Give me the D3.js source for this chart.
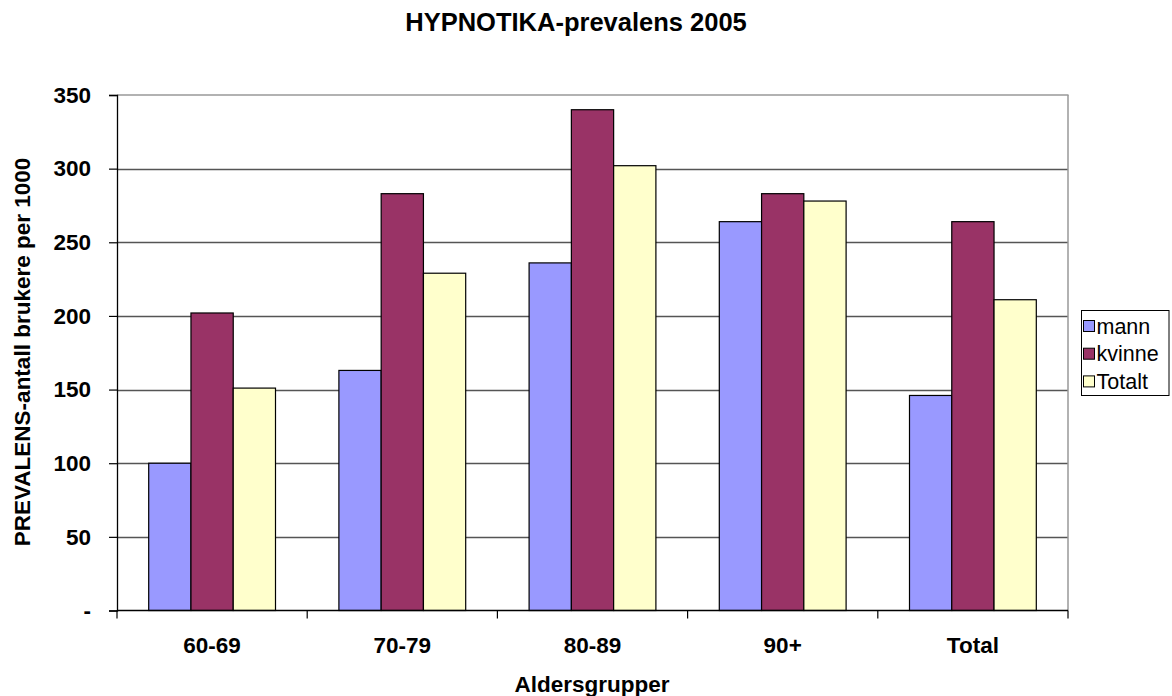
<!DOCTYPE html>
<html><head><meta charset="utf-8">
<script src="https://cdn.jsdelivr.net/npm/d3@7"></script>
<style>body{margin:0;background:#fff}text{font-family:Arial,"Liberation Sans",sans-serif}</style>
</head><body><svg id="c" width="1172" height="696"></svg>
<script>
const categories = ["60-69","70-79","80-89","90+","Total"];
const seriesNames = ["mann","kvinne","Totalt"];
const mann = [100,163,236,264,146];
const kvinne = [202,283,340,283,264];
const totalt = [151,229,302,278,211];
const yTicks = [0,50,100,150,200,250,300,350];
const colors = ["#9999FF","#993366","#FFFFCC"];
const title = "HYPNOTIKA-prevalens 2005";
const xTitle = "Aldersgrupper";
const yTitle = "PREVALENS-antall brukere per 1000";

const series = [mann,kvinne,totalt];
const svg = d3.select("#c");
const L=117, R=1068, T=95, B=610.5;
const x = d3.scaleBand().domain(categories).range([L,R]).padding(0);
const y = d3.scaleLinear().domain([0,350]).range([B,T]);
const bw = x.bandwidth()/4.5;
const x1 = d3.scaleBand().domain(seriesNames).range([0,bw*3]);

// gridlines
svg.append("g").selectAll("line").data(yTicks.filter(d=>d>0&&d<350)).join("line")
  .attr("x1",L).attr("x2",R).attr("y1",d=>Math.round(y(d))+0.5).attr("y2",d=>Math.round(y(d))+0.5)
  .attr("stroke","#555").attr("stroke-width",1.3);
// top & right border
svg.append("line").attr("x1",L).attr("x2",R+0.5).attr("y1",T).attr("y2",T).attr("stroke","#999").attr("stroke-width",1.5);
svg.append("line").attr("x1",R).attr("x2",R).attr("y1",T).attr("y2",B).attr("stroke","#999").attr("stroke-width",1.5);

// bars
const g = svg.append("g");
series.forEach((s,si)=>{
  g.append("g").selectAll("rect").data(s).join("rect")
    .attr("x",(d,i)=>x(categories[i])+(x.bandwidth()-bw*3)/2+x1(seriesNames[si]))
    .attr("y",d=>y(d)).attr("width",x1.bandwidth()).attr("height",d=>B-y(d))
    .attr("fill",colors[si]).attr("stroke","#000").attr("stroke-width",1.2);
});

// y axis
const yAxis = d3.axisLeft(y).tickValues(yTicks).tickSize(8).tickPadding(18)
  .tickFormat(d=>d===0?"-":d);
const ya = svg.append("g").attr("transform",`translate(${L},0)`).call(yAxis);
ya.select(".domain").attr("stroke","#000").attr("stroke-width",1.3);
ya.selectAll(".tick line").attr("stroke","#000").attr("stroke-width",1.2);
ya.selectAll("text").attr("font-size",22.5).attr("font-weight","bold").attr("fill","#000");

// x axis
const xb = d3.scaleLinear().domain([0,categories.length]).range([L,R]);
const xa = svg.append("g").attr("transform",`translate(0,${B})`);
xa.append("line").attr("x1",L).attr("x2",R).attr("stroke","#000").attr("stroke-width",1.3);
xa.selectAll(".tk").data(d3.range(categories.length+1)).join("line")
  .attr("x1",d=>xb(d)).attr("x2",d=>xb(d)).attr("y1",0).attr("y2",8).attr("stroke","#000").attr("stroke-width",1.2);
xa.selectAll("text").data(categories).join("text")
  .attr("x",d=>x(d)+x.bandwidth()/2).attr("y",42.5).attr("text-anchor","middle")
  .attr("font-size",22.5).attr("font-weight","bold").text(d=>d);

// titles
svg.append("text").attr("x",576).attr("y",31).attr("text-anchor","middle")
  .attr("font-size",25.5).attr("font-weight","bold").text(title);
svg.append("text").attr("x",592).attr("y",692).attr("text-anchor","middle")
  .attr("font-size",22.5).attr("font-weight","bold").text(xTitle);
svg.append("text").attr("transform","translate(30,352) rotate(-90)").attr("text-anchor","middle")
  .attr("font-size",22.5).attr("font-weight","bold").text(yTitle);

// legend
const lg = svg.append("g").attr("transform","translate(1081.5,310.5)");
lg.append("rect").attr("width",87.5).attr("height",85).attr("fill","#fff").attr("stroke","#000").attr("stroke-width",1);
seriesNames.forEach((n,i)=>{
  const yy = 15.5+i*27.7;
  lg.append("rect").attr("x",2).attr("y",yy-5.5).attr("width",11).attr("height",11)
    .attr("fill",colors[i]).attr("stroke","#000").attr("stroke-width",1);
  lg.append("text").attr("x",15).attr("y",yy+7.5).attr("font-size",21.5).text(n);
});
</script></body></html>
